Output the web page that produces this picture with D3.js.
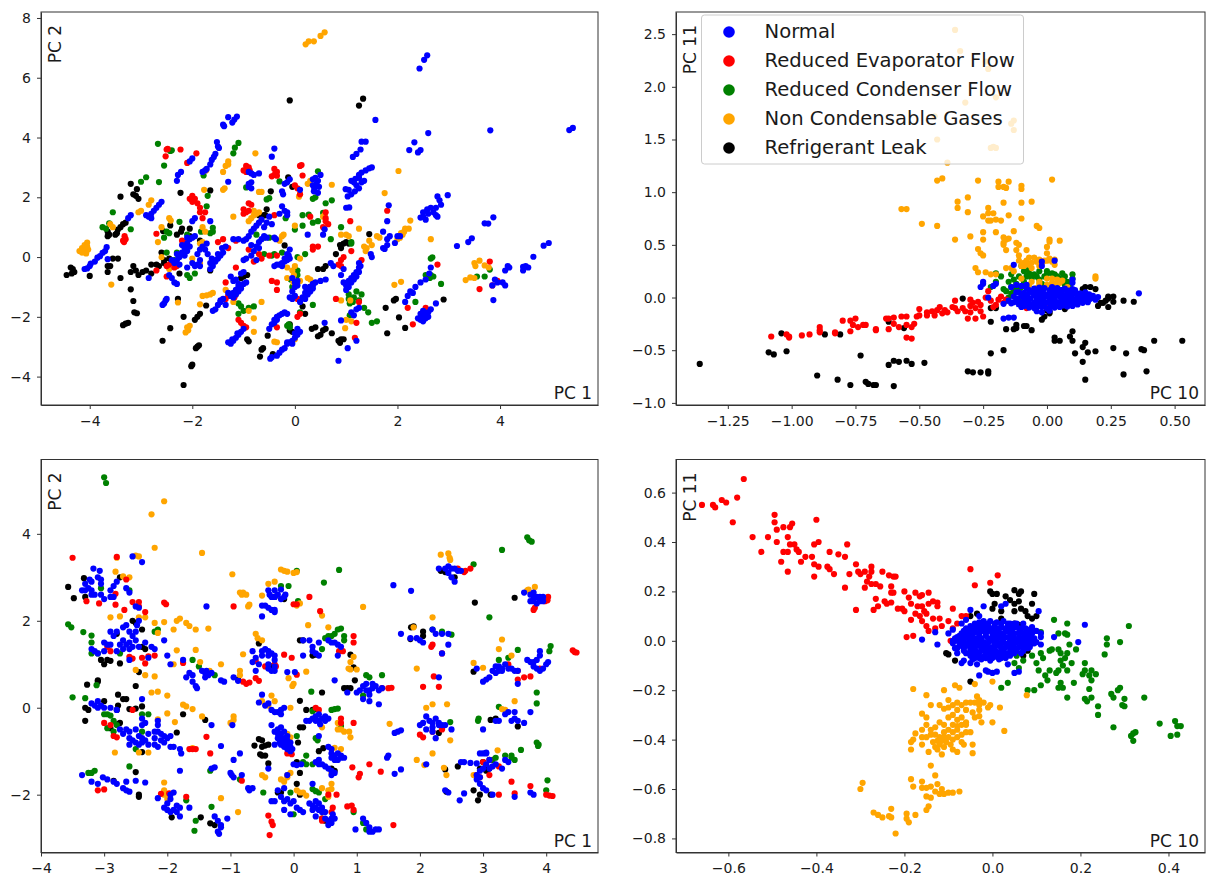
<!DOCTYPE html>
<html>
<head>
<meta charset="utf-8">
<script src="https://cdn.jsdelivr.net/npm/d3@7"></script>
<style>
  html, body { margin: 0; padding: 0; background: #fff; }
  svg { display: block; }
  text { font-family: "DejaVu Sans", sans-serif; fill: #1a1a1a; }
  .tick text { font-size: 14px; }
  .tick line, .domain { stroke: #333; }
</style>
</head>
<body>
<div id="figura"></div>
<script>
/*--- datos: panel a (arriba izq), b (arriba der), c (abajo izq), d (abajo der) ---*/
let clases = ["Normal", "Reduced Evaporator Flow", "Reduced Condenser Flow", "Non Condensable Gases", "Refrigerant Leak"];
let colores = ["blue", "red", "green", "orange", "black"];

let a_normal = [[2.43,6.31],[2.52,6.6],[2.58,6.75],[5.35,4.25],[5.42,4.32],[3.81,4.24],[2.6,4.15],[1.57,4.59],[1.3,3.86],[1.38,3.86],[2.33,3.84],[2.23,3.58],[2.4,3.5],[2.45,3.58],[1.2,3.45],[1.13,3.35],[1.28,3.6],
[1.1,2.55],[1.18,2.62],[1.25,2.75],[1.3,2.83],[1.38,2.9],[1.45,2.97],[1.5,3],[1.2,2.4],[1.3,2.5],[1.35,2.55],[1.15,2.5],[1.25,2.65],[.99,2.27],[1.05,2.25],[1.1,2.1],[1.03,2.03],[1,1.65],[1.06,1.66],[1.17,2.2],[1.25,2.3],
[2.5,1.35],[2.45,1.32],[2.55,1.25],[2.5,1.5],[2.58,1.6],[2.65,1.65],[2.75,1.65],[2.6,1.45],[2.7,1.5],[2.75,1.4],[2.78,1.35],[2.78,2.03],[2.82,1.9],[2.85,1.75],[2.98,2.07],[1.83,1.73],[1.8,1.2],
[3.7,1.13],[3.77,1.12],[3.87,1.33],[1.8,.6],[1.85,.7],[1.72,.85],[2,.7],[2.05,.7],[1.95,.47],[1.72,.3],[1.75,.27],[1.8,.4],[1.48,.1],[3.16,.37],[3.38,.5],[3.45,.63],[4.85,.38],[4.95,.47],[4.65,.01],[4.15,-.3],[4.18,-.35],[4.1,-.45],[4.45,-.33],[4.5,-.3],[4.55,-.35],[4.45,-.45],[4.05,-.85],[4.1,-.95],[3.9,-.75],[3.85,-.95],[3.95,-.85],[3.87,-1.44],
[2.65,-.35],[2.62,-.55],[2.55,-.75],[2.45,-.85],[2.35,-1],[2.25,-1.15],[2.2,-1.3],[2.15,-1.5],[2.3,-1.2],[2.4,-2.05],[2.45,-2.1],[2.5,-2],[2.55,-1.9],[2.6,-1.85],[2.65,-1.75],[2.75,-1.55],[2.5,-2.15],[2.55,-2.05],[2.45,-1.9],[2.5,-1.8],[2.6,-2],
[-4.1,-.4],[-4.05,-.38],[-4,-.3],[-3.98,-.22],[-3.9,-.15],[-3.85,-.02],[-3.8,.03],[-3.75,.14],[-3.7,.2],[-3.67,.33],[-3.65,-.07],[-3.2,1.4],[-3.25,1.3],[-2.85,1.35],[-2.8,1.45],[-2.75,1.55],[-2.7,1.65],[-2.65,1.75],[-2.8,1.3],[-2.9,1.4],[-2.6,1.85],[-2.85,-.7],
[-2.35,-.2],[-2.3,-.1],[-2.25,0],[-2.2,.15],[-2.15,.3],[-2.1,.45],[-2.05,.6],[-2,.65],[-1.95,.7],[-2.25,-.25],[-2.15,.05],[-2.1,.2],[-2.05,.35],[-2.2,.4],[-2.1,.65],[-2.4,-.1],[-2.3,.1],[-2,-.2],[-1.9,-.25],[-1.95,-.3],[-1.85,-.1],[-2.1,-.35],[-1.9,.1],[-1.85,.25],
[-2.4,-.7],[-2.35,-.85],[-2.3,-.9],[-2.45,-.6],[-2.58,-1.6],[-2.55,-1.55],[-2.52,-1.45],[-2.5,-1.4],
[-1.4,4.43],[-1.38,4.38],[-1.3,4.68],[-1.22,4.5],[-1.18,4.6],[-1.13,4.7],[-1.52,3.85],[-1.5,3.7],[-1.48,3.65],[-.45,3.36],[-.4,3.63],[-1.72,2.95],[-1.65,3.1],[-1.62,3.25],[-1.58,3.35],[-1.55,3.45],[-1.75,2.9],[-2.05,3.2],[-2,3.3],[-2.28,2.75],[-2.22,2.85],[-2.3,2.55],[-1.8,2.85],[-1.3,2.52],[-.9,2.85],[-.85,2.8],[-.8,2.75],[-.7,2.8],[-.9,2.45],[-.85,2.5],[-.9,2.35],[-.85,2.3],
[-.2,2.45],[-.25,2.2],[-.15,2.5],[-.23,2.1],[-.1,2.6],[.1,2.25],[.35,2.6],[.4,2.65],[.45,2.55],[.35,2.4],[.42,2.45],[.37,2.2],[.45,2.15],[.38,2.3],[.5,2.75],[.47,2.35],[-.25,1.7],[-.2,1.55],[-.15,1.4],[-.15,1.5],[-.3,1.45],[-.5,1.35],[-1.95,1.3],[-2,1.2],[-1.65,1.2],
[-1.2,.6],[-1.1,.6],[-1,.55],[-.95,.6],[-.9,.7],[-.85,.85],[-.8,.95],[-.75,1.05],[-.7,1.15],[-.65,1.25],[-.85,.4],[-.75,.35],[-.7,.5],[-.65,.6],[-.6,.7],[-.55,.65],[-.8,.2],[-.7,.3],[-.6,1],[-.55,1.15],[-.45,1.1],[-.4,.65],[-.37,.6],[-.75,-.1],[-.95,-.05],[-1,-.1],[-.85,.05],
[-.25,-.3],[-.3,-.25],[-.35,-.25],[-.4,-.3],[-.2,-.15],[-.15,-.1],[-.1,-.05],[-.12,.05],[-.2,-.05],[-.25,-.2],[-.15,.1],[-.1,.25],[-1.65,-.4],[-1.6,-.3],[-1.55,-.15],[-1.5,-.05],[-1.45,.05],[-1.4,.15],[-1.42,.3],[-1.35,.35],[-1.55,-.1],[-1.65,-.2],[-1.62,-.05],[-1.6,-.15],[-1.5,.1],[-1.85,-.3],[-1.7,.1],[-1.75,.25],[-1.8,.35],[-1.72,.45],[.25,.75],[.55,.75],[.58,.93],
[-1.2,-.8],[-1.25,-.65],[-1.15,-.75],[-1.1,-.9],[-1.05,-.55],[-1,-.5],[-1.3,-1.2],[-1.25,-1.3],[-1.2,-1.2],[-1.15,-1.1],[-1.1,-1],[-1.05,-.95],[-1,-.9],[-.95,-.85],[-1.15,-1.25],[-1.1,-1.15],[-1.05,-1.05],[-1.2,-1.35],[-1.4,-1.4],[-1.45,-1.5],[-1.5,-1.6],[-1.55,-1.75],[-1.6,-1.8],[-1.35,-1.6],[-1.45,-1.45],
[-1.3,-2.85],[-1.25,-2.9],[-1.2,-2.8],[-1.15,-2.7],[-1.1,-2.6],[-1.05,-2.5],[-1,-2.4],[-1.22,-2.75],[-1.12,-2.55],[-.5,-2.4],[-.45,-2.25],[-.4,-2.1],[-.35,-2],[-.3,-1.95],[-.25,-1.9],[-.2,-1.85],[-.15,-1.9],[-.4,-2.2],[-.35,-2.1],
[-.48,-3.4],[-.45,-3.35],[-.35,-3.3],[-.3,-3.2],[-.25,-3.1],[-.2,-3.05],[-.15,-2.9],[-.1,-2.85],[-.05,-2.8],[0,-2.7],[.05,-2.6],[.1,-2.5],[0,-2.55],[.05,-2.4],[-.15,-2.85],[-.05,-2.9],
[.35,-.95],[.3,-1],[.25,-1.05],[.2,-1.2],[.15,-1.35],[.1,-1.5],[.3,-1.15],[.35,-1.05],[.25,-1.25],[.2,-1.4],[.4,-.85],[.2,-1],[.35,-.9],[.5,-.8],[.6,-.75],[-.05,-.7],[.05,-.8],[0,-1],[-.05,-1.15],[-.1,-1.35],[-.05,-1.4],[0,-1.3],[.05,-.95],[0,-.85],
[.95,-.85],[1,-.95],[1.05,-.8],[1.1,-.7],[1.15,-.6],[1.2,-.5],[1.25,-.35],[1.28,-.3],[1,-1.1],[1.05,-1],[1.1,-.85],[1.15,-.75],[1.2,-.65],[1.25,-.5],[.9,-.6],[.95,-.4],[.75,-.3],[.7,-.2],[1.25,-.2],[1.5,0],[1.1,-1.85],[1.15,-1.95],[1.2,-1.75],[.9,-2.12],[.58,-2.2],[1.25,-1.7],[1.03,-3.05],[.85,-3.47],[1.2,-2.8]];

let a_evap = [[-2.5,3.6],[-2.48,3.62],[-2.52,3.37],[-2.23,3.6],[-1.92,3.47],[-2.1,3.15],[-.95,3.05],[-.9,3],[-1,2.9],[-.95,2.85],[-.88,2.9],[-.4,2.95],[-.35,2.85],[-.4,2.75],[-.45,2.7],[-.35,2.72],[.1,3.05],[.13,3.08],[.15,2.73],[0,2.4],[.05,2.3],[.1,2.1],[-2,2.05],[-1.95,1.95],[-2.05,1.95],[-2,1.85],[-1.9,1.8],[-1.85,1.5],[-1.8,1.3],[-1.75,1.5],[-1.85,1.65],[-1,1.6],[-.95,1.5],[-.9,1.55],[-.9,1.8],[-.85,1.75],[-1,1.45],[-.4,1.4],[.3,1.35],[.6,1.3],[.6,1.2],[.65,1.1],[.55,1],[.6,1.5],[1.08,1.2],
[-3.33,.5],[-3.3,.6],[-3.35,.55],[-3.32,.7],[-2.7,.78],[-2.2,.55],[-2.15,.5],[-1.5,.5],[-1.4,.6],[-1.3,.3],[-1.15,.55],[-.9,.25],[-.7,.1],[-.65,-.05],[-.8,-.15],[-.5,.05],[-.35,.05],[.35,.25],[.45,.35],[.35,.35],[.9,-.1],[.85,-.25],[.9,-.3],[.95,0],[1.1,.2],[1.3,-.1],
[-2.5,-.3],[-2.45,-.25],[-2.35,-.35],[-2.3,-.3],[-2.7,-.45],[-2.5,-.65],[-.45,-.8],[-.35,-.85],[-.35,-1.1],[-1.35,-1.4],[-1.3,-1.3],[-1.18,-1.35],[-1.35,-.85],[-1.15,-.35],[.8,-1.4],[1.25,-1.5],[1.2,-2.2],[1.17,-2.7],[2.2,-1.7],[2.3,-2.25],[2.55,-1.7],[3.6,-1.07],[3.8,-.15],[3.85,-.95],[3.95,-.8],[2.78,-.25],[1.8,1.55],[.05,-1.4],[.1,-1.9],[.05,-2],[-.35,-2.35],[-1.1,-2.1],[-1.05,-2.2],[-1,-2.3],[-.95,-2.35]];

let a_cond = [[-2.67,3.79],[-2.4,3.57],[-2.43,3.55],[-2.55,3.06],[-2.65,2.51],[-2.9,2.67],[-3,2.52],[-1.1,3.82],[-1.17,3.66],[-1.2,3.47],[.45,2.87],[-.3,2.53],[-1.78,2.73],[-.95,2.33],[.4,2],[.35,1.95],[-.55,1.93],[-.5,1.97],[.6,1.8],[.72,1.9],[.15,1.4],[.27,1.42],[.45,1.2],[.55,1.48],[.35,1.15],[-.18,1.3],[0,.92],[.15,1.05],[-3.55,1.5],[-3.62,1.13],[-3.75,1],[-3.68,.95],[-3.2,.93],[-2.25,1.18],[-2.45,.8],[-2.5,.85],[-2.55,.65],[-2.1,.75],[-1.6,.98],[-1.6,.85],[-1.65,.8],[-1.83,.85],[-1.7,2.05],[-1.72,1.7],[-.75,.75],[-.6,.65],[-.5,.65],[.7,.6],[.9,1],[1.1,.5],[-.6,.1],[-.45,.05],[-.4,.1],[-.25,.15],[.2,.1],[.05,0],[-2.5,.15],[-2.3,.15],[-2.35,-.1],[-2.1,-.6],[-2.05,-.7],[-1.95,-.55],[0,-.4],[.05,-.45],[-.05,-1],[0,-.9],[-.08,-.75],[.05,-.6],
[-1.1,-1.55],[-1.05,-1.65],[-1,-1.8],[-1.1,-1.9],[-.8,-1.65],[-.9,-1.7],[.35,-1.6],[.1,-1.85],[-.1,-2.3],[-.15,-2.3],[-.12,-2.25],[-.1,-2.35],[1.05,-1.25],[1.1,-1.4],[1.15,-1.35],[1.2,-1.15],[1.13,-1.5],[1.05,-1.4],[1.3,-1.25],[1.07,-1.55],[1.25,-1.45],[1.35,-1.7],[1.07,-1.95],[1.43,-1.85],[1.5,-2.2],[1.6,-2.15],[2.35,-1.5],[2.65,-.6],[2.7,-.65],[2.63,-.7],[2.55,-.6],[2.65,-.05],[2.68,-.01],[2.85,-.9],[3.55,-.65],[3.7,-.65],[3.8,-.42],[1.1,.45]];

let a_gases = [[.21,7.12],[.27,7.22],[.37,7.22],[.5,7.4],[.58,7.52],[-.77,3.47],[-1.4,2.85],[-1.35,3.05],[-1.3,3.1],[-1.3,3.2],[-1.73,2.9],[2.02,2.88],[1.75,2.14],[.72,2.42],[.3,2.55],[.25,2.45],[.1,2.1],[.08,2.02],[-1.4,2.25],[-1.37,2.3],[-1.77,2.25],[-.65,2.18],[-.7,2.18],[-2.8,1.9],[-2.85,1.75],[-3,1.55],[-3.05,1.5],[-2.45,1.3],[-2.42,1.22],[-1.2,1.35],[-.85,1.3],[-.8,1.4],[-.75,1.45],[-.7,1.5],[-.8,1.55],[-.9,1.2],
[2.25,1.22],[2.22,.95],[2.15,.95],[2.13,.85],[2.1,.75],[2.07,.8],[2.05,.65],[2,.6],[2.65,.6],[1.45,.55],[1.6,.7],[1.65,.65],[1.35,.35],[1.4,.3],[1.38,.2],[1.5,.4],[1.05,.7],[1,.75],[.9,.75],[1.25,.95],[-3.6,1.1],[-3.55,1],[-2.6,1],[-2.67,.5],[-1.8,1],[-1.75,.85],[-.3,.55],[-.25,.7],[-.22,.75],[0,1.05],[.55,1.35],[.58,1.4],
[-4.2,.2],[-4.15,.3],[-4.1,.4],[-4.05,.48],[-4.12,.2],[-4.07,.12],[-4.03,.25],[-4.15,.15],[-4.05,.35],[-3.58,-.92],[-2.6,0],[-2.45,-.4],[-1.85,-.2],[-2,-.05],[-1.8,.5],[-1.85,.45],[.1,-.05],[0,-.3],[-.15,-.35],[-.05,-.45],[-.02,-.6],[-.15,-.7],[.25,-.7],[.3,-.75],[.1,-.8],[-.03,-.85],
[-1.8,-1.3],[-1.72,-1.28],[-1.65,-1.25],[-1.6,-1.2],[-1.85,-1.58],[-2.28,-1.52],[-1.35,-1.1],[-1.15,-1.25],[-1.2,-1.5],[-.65,-1.5],[-.9,-1.8],[-.8,-2.05],[-.8,-2.5],[-2.1,-2.35],[-2.05,-2.3],[-2.08,-2.45],[-2.13,-2.52],[-.4,-2.83],[-.35,-2.85],[0,-2.75],[1,-2.1],[.98,-2.38],[1.1,-2.15],[.9,-1.45],[1.08,-1.45],[1.94,-.93],[2.07,-.83],[3.33,-.77],[3.42,-.68],[3.5,-.7],[3.5,-.2],[3.52,-.3],[3.6,-.12],[3.7,-.28],[3.78,-.35]];

let a_leak = [[-.1,5.24],[1.25,5.07],[1.33,5.3],[-3.2,2.45],[-3.08,2.27],[-3.4,2.02],[-3.15,2.1],[-3.1,2.05],[-3.05,1.95],[-2.23,2.15],[-1.65,2.23],[-.47,2.2],[-.13,2.67],[-.05,2.35],[-.7,1.4],[-.65,1.38],[-.6,1.4],[-.58,1.4],[-.55,1.6],[-3.45,.92],[-3.4,1],[-3.35,1.1],[-3.3,1.15],[-3.62,.75],[-3.65,.85],[-3.65,.7],[-3.5,.75],[-3.47,.8],[-2.57,.87],[-2.43,1.06],[-2.2,.95],[-2.22,.85],[-2.05,.95],[-2.05,.7],[-1.85,.55],[-2.3,.75],
[-4.45,-.6],[-4.35,-.55],[-4.3,-.5],[-4.33,-.4],[-4.37,-.35],[-4,-.63],[-3.65,-.3],[-3.6,-.3],[-3.65,-.5],[-3.55,-.05],[-3.45,-.05],[-3.4,-.7],[-3.2,-.5],[-3.15,-.3],[-3.1,-.45],[-3.05,-.6],[-2.97,-.5],[-2.9,-.45],[-2.8,-.55],[-2.8,-.25],[-2.7,-.25],[-2.65,-.3],[-2.55,-.2],[-2.6,.15],[-2.55,-.1],[-2.45,-.05],[-2.25,-.55],[-1.65,-.45],[-3.2,-1.08],[-3.15,-1.47],[-3.13,-1.85],[-3.08,-1.88],[-3.35,-2.28],[-3.3,-2.23],[-3.25,-2.2],[-2.43,-2.38],[-2.58,-2.8],[-2.28,-1.4],[-2.17,-2],[-1.95,-2.1],[-1.9,-2],[-1.85,-1.9],[-1.73,-1.62],[-1.93,-3.05],[-1.87,-2.95],[-1.9,-3],[-2,-3.6],[-2.02,-3.65],[-2.17,-4.28],
[-1.05,-.7],[-1,-.65],[-.93,-.6],[-.93,-2.75],[-.9,-2.82],[-.53,-2.63],[-.68,-3.33],[-.65,-3.1],[-.62,-3.05],[-.43,-3.25],[-.1,-2.25],[-.1,-2.45],[-.05,-2.5],[.33,-2.4],[.4,-2.35],[.45,-2.65],[.5,-2.6],[.55,-2.45],[.6,-2.4],[.72,-2.55],[.85,-2.8],[.9,-2.75],[.95,-2.75],[.88,-2.87],[1.8,-2.55],[2.15,-2.37],[2.03,-2.02],[1.77,-1.7],[1.97,-1.4],[1.93,-1.45],[2.9,-1.42],[.2,-1.9],[.15,-1.65],[.45,-.4],[.55,-.4],[.6,-.3],[.3,-1],[.25,-1.1],[-.2,.39],[.8,.1],[.9,.3],[.88,.4],[.95,.45],[1,.5],[1.05,.45],[1.45,.77]];

let b_normal = [[.36,.04],[.03,.35],[-.02,.3],[-.02,.34],[-.13,.31],[-.26,.1],[-.25,.13],[-.25,.15],[-.2,.13],[-.21,.11],[-.23,0],[-.17,-.2],[-.15,-.19],[-.13,-.19],[.1,.17],[.1,.14],[-.14,.1],[-.12,.12],[-.1,.11],[-.12,.05],[-.08,.12],
[-.08,.09],[-.05,.085],[-.03,.095],[-.01,.09],[.02,.1],[.04,.09],[.07,.085],[.1,.08],
[-.11,.05],[-.09,.045],[-.06,.055],[-.04,.05],[-.02,.06],[.01,.05],[.03,.055],[.05,.05],[.08,.045],[.11,.05],[.13,.04],[.15,.05],
[-.13,.01],[-.1,.015],[-.08,.01],[-.05,.02],[-.03,.01],[0,.015],[.02,.01],[.04,.02],[.07,.01],[.09,.015],[.12,.01],[.14,.02],[.16,.01],[.18,.015],[.2,.005],
[-.15,-.03],[-.12,-.025],[-.09,-.03],[-.07,-.02],[-.04,-.035],[-.02,-.025],[.01,-.03],[.03,-.02],[.06,-.03],[.08,-.025],[.11,-.035],[.13,-.02],[.15,-.03],[.19,-.02],
[-.17,-.06],[-.14,-.055],[-.11,-.065],[-.08,-.06],[-.06,-.07],[-.03,-.055],[-.01,-.065],[.02,-.06],[.05,-.07],[.07,-.055],[.1,-.06],[.12,-.065],[.14,-.05],
[-.1,-.09],[-.07,-.095],[-.05,-.1],[-.02,-.09],[0,-.105],[.03,-.095],[.05,-.09],[.08,-.085],[.1,-.08],[-.04,-.13],[-.02,-.14],[.01,-.125],[-.09,-.05],[-.03,.075],[.06,.07],[.16,-.045],[.17,-.01]];
let b_centro = [[-.07,.07],[-.04,.07],[-.015,.07],[.01,.07],[.03,.07],[.055,.07],[.085,.065],[.11,.07],[-.1,.03],[-.075,.03],[-.05,.03],[-.03,.03],[-.01,.03],[.01,.03],[.03,.03],[.06,.03],[.08,.03],[.1,.03],[.125,.03],[.145,.03],[.165,.03],[-.115,-.01],[-.09,-.01],[-.065,-.01],[-.04,-.01],[-.015,-.01],[.01,-.01],[.03,-.01],[.055,-.01],[.08,-.01],[.1,-.01],[.125,-.01],[.15,-.01],[.17,-.01],[-.13,-.045],[-.1,-.045],[-.075,-.045],[-.05,-.045],[-.03,-.045],[0,-.045],[.02,-.045],[.04,-.045],[.065,-.045],[.09,-.045],[.12,-.045],[-.09,-.08],[-.06,-.08],[-.035,-.08],[-.01,-.08],[.015,-.08],[.04,-.08],[.065,-.075],[.09,-.07]];

let b_evap = [[-1.08,-.37],[-1.02,-.35],[-1.01,-.37],[-1.01,-.38],[-.96,-.36],[-.93,-.35],[-.89,-.31],[-.89,-.28],[-.89,-.33],[-.83,-.34],[-.83,-.33],[-.8,-.22],[-.77,-.22],[-.76,-.26],[-.75,-.2],[-.77,-.32],[-.74,-.28],[-.72,-.26],[-.71,-.26],[-.67,-.31],[-.67,-.3],[-.63,-.2],[-.62,-.2],[-.62,-.3],[-.6,-.19],[-.6,-.25],[-.58,-.28],[-.57,-.18],[-.55,-.18],[-.55,-.26],[-.55,-.38],[-.53,-.28],[-.53,-.39],[-.52,-.25],[-.51,-.18],[-.5,-.17],[-.5,-.11],[-.47,-.17],[-.47,-.14],[-.45,-.13],[-.44,-.17],[-.43,-.12],[-.42,-.09],[-.41,-.15],[-.4,-.12],[-.39,-.14],[-.37,-.09],[-.36,-.1],[-.35,-.13],[-.33,-.1],[-.32,-.13],[-.31,-.2],[-.3,-.14],[-.3,-.08],[-.29,-.05],[-.28,-.2],[-.28,-.1],[-.27,-.04],[-.26,-.07],[-.26,-.13],[-.25,-.18],[-.24,0],[-.22,-.03],[-.21,-.09],[-.2,-.07],[-.19,-.02],[-.18,.01],[-.17,-.05],[-.16,-.02],[-.23,.06],[-.36,-.03],[-.3,-.02],[0,-.1],[-.05,-.08],[-.1,-.05],[-.08,-.1]];

let b_cond = [[-.2,.23],[-.18,.2],[-.1,.3],[-.09,.25],[-.07,.27],[-.05,.22],[-.04,.2],[-.08,.2],[-.11,.2],[-.14,.22],[-.13,.17],[-.15,.15],[-.12,.13],[-.09,.15],[-.06,.18],[-.03,.17],[-.01,.2],[0,.22],[.02,.23],[.04,.2],[.05,.18],[.07,.2],[.1,.22],[.1,.18],[.08,.15],[.07,.12],[.04,.1],[-.02,.13],[-.22,.1],[-.2,.15],[-.17,.08],[-.16,.06],[-.14,.04],[-.15,0],[-.16,-.03],[-.11,.06],[-.1,.1],[.02,.1],[.09,.1],[-.12,.1],[-.1,0],[-.07,.23],[-.06,.2],[-.03,.25],[0,.25],[.03,.22],[.06,.23],[.09,.14],[-.13,.08],[-.14,.1]];

let b_gases = [[-.36,2.54],[-.34,2.34],[-.24,2.24],[-.23,2.17],[-.32,1.85],[-.2,1.9],[-.44,1.72],[-.14,1.65],[-.13,1.68],[-.13,1.59],[-.43,1.5],[-.22,1.42],[-.21,1.43],[-.2,1.42],[-.39,1.28],[-.43,1.11],[-.41,1.13],[-.27,1.11],[-.19,1.1],[-.15,1.1],[-.1,1.03],[-.1,1.06],[-.19,1.05],[-.17,1.05],[-.16,1.04],[.02,1.12],
[-.35,.91],[-.31,.95],[-.35,.85],[-.31,.81],[-.23,.85],[-.17,.9],[-.1,.9],[-.06,.91],[-.57,.84],[-.55,.84],[-.49,.7],[-.43,.68],[-.25,.77],[-.23,.8],[-.21,.8],[-.23,.73],[-.2,.74],[-.18,.73],[-.22,.73],[-.15,.78],[-.1,.75],[-.2,.62],[-.25,.62],[-.25,.55],[-.36,.55],[-.3,.58],[-.04,.68],[-.03,.66],[-.13,.63],[-.17,.57],[-.17,.52],[-.16,.55],[-.15,.56],[-.12,.52],[-.11,.5],[-.17,.5],[.01,.55],[.01,.53],[.05,.54],
[-.27,.46],[-.26,.42],[-.25,.4],[-.16,.45],[-.12,.45],[-.11,.4],[-.08,.45],[0,.48],[0,.42],[-.11,.35],[-.08,.35],[-.07,.38],[-.05,.38],[-.03,.36],[-.01,.35],[.01,.37],[.03,.36],[.03,.31],[.19,.2],[.19,.18],[-.28,.28],[-.27,.24],[-.24,.24],[-.22,.22],[-.2,.22],[-.16,.28],[-.14,.28],[-.1,.3],[-.13,.25],[-.06,.28],[-.03,.3],[-.1,.18],[-.06,.15],[-.07,.12],[-.03,.13],[0,.18],[.02,.18],[.04,.17],[.05,.14],[.02,.14],[-.04,.09],[-.09,.3],[-.03,.15],[0,.12],[.03,.13],[.06,.16],[.08,.1],[-.09,.33],[-.06,.33],[-.04,.34],[-.02,.33],[0,.35],[.02,.34],[-.07,.31]];

let b_leak = [[-1.36,-.63],[-1.09,-.52],[-1.07,-.54],[-1.04,-.34],[-1.02,-.51],[-.87,-.35],[-.81,-.35],[-.9,-.74],[-.82,-.78],[-.77,-.83],[-.71,-.8],[-.7,-.82],[-.68,-.83],[-.67,-.83],[-.6,-.84],[-.62,-.64],[-.6,-.6],[-.58,-.61],[-.55,-.6],[-.53,-.63],[-.48,-.62],[-.73,-.55],[-.62,-.23],[-.56,-.29],[-.33,-.01],[-.31,-.7],[-.29,-.71],[-.26,-.71],[-.23,-.7],[-.23,-.72],[-.22,-.53],[-.17,-.5],[-.22,-.23],[-.22,-.1],[-.2,-.1],[-.16,-.3],[-.13,-.3],[-.12,-.29],[-.12,-.26],[-.09,-.27],[-.08,-.27],[-.06,-.31],[-.02,-.21],[-.01,-.18],[.01,-.13],[.01,-.15],[.03,-.41],[.03,-.38],[.05,-.41],[.09,-.37],[.1,-.41],[.1,-.32],[.11,-.53],[.15,-.43],[.14,-.47],[.16,-.52],[.19,-.51],[.14,-.61],[.15,-.78],[.26,-.48],[.3,-.73],[.31,-.53],[.37,-.49],[.38,-.5],[.39,-.7],[.42,-.41],[.53,-.41],[.08,-.03],[.17,.1],[.19,.08],[.15,.1],[.14,.08],[.2,-.08],[.21,-.05],[.22,-.05],[.23,-.03],[.24,-.01],[.24,.01],[.26,.01],[.26,-.04],[.24,-.09],[.3,-.03],[.34,-.04],[.07,-.11],[0,-.12]];

let c_normal = [[-3.17,3.2],[-3.07,3.15],[-3.1,3],[-3.05,2.95],[-3.05,2.85],[-3.23,2.95],[-3.3,2.85],[-3.2,2.9],[-3.25,2.75],[-3.35,2.7],[-3.3,2.7],[-3.2,2.7],[-3.2,2.6],[-3.15,2.6],[-3.05,2.6],[-3,2.5],[-2.9,2.55],[-2.85,2.55],[-2.9,2.7],[-2.8,2.9],[-2.85,2.8],[-2.65,2.75],[-2.6,2.65],[-2.55,3.48],[-2.4,3.35],[-2.5,2.33],[-2.45,2.3],
[-2.9,1.75],[-2.85,1.65],[-2.8,1.75],[-2.9,1.45],[-3,1.5],[-2.95,1.45],[-3.2,1.35],[-3.15,1.3],[-3.1,1.25],[-3,1.3],[-2.7,1.85],[-2.65,1.9],[-2.6,1.75],[-2.55,1.65],[-2.7,1.55],[-2.65,1.45],[-2.6,1.5],[-2.55,1.4],[-2.7,1.35],[-2.6,1.35],[-2.5,1.55],[-2.45,1.4],[-2.5,1.75],[-2.48,1.9],[-2.45,2],[-2.35,1.5],[-2.25,1.4],[-2.2,1.35],[-2.75,1.45],[-2.8,1.3],[-2.6,1.1],[-2.3,1.15],[-2.05,1.55],
[-2,1.2],[-1.95,1],[-1.75,1.1],[-1.6,.75],[-1.65,.8],[-1.7,.7],[-1.6,.6],[-1.55,.5],[-1.53,.45],[-1.45,.85],[-1.4,.8],[-1.35,.75],[-1.4,.7],[-1.38,.85],[-1.3,.8],[-1.15,.63],[-1.1,.6],[-.95,.7],[-.88,.62],[-1.38,2.33],
[-.65,1.3],[-.6,1.15],[-.65,1.05],[-.5,1.2],[-.5,1.3],[-.45,1.35],[-.4,1.3],[-.4,1.2],[-.35,1.25],[-.3,1.2],[-.4,1],[-.4,.9],[-.35,.85],[-.3,.85],[-.3,1.1],[-.3,.95],[-.6,.85],[-.55,1],[-.1,.82],[.02,.82],
[.15,1.2],[.15,1.55],[.25,1.55],[.3,1.4],[.3,1.3],[.35,1.25],[.4,1.2],[.4,1.5],[.55,1.55],[.6,1.5],[.65,1.5],[.7,1.45],[.75,1.4],[.7,1.2],[.65,.63],
[-.5,2.1],[-.5,2.35],[-.45,2.35],[-.4,2.3],[-.35,2.25],[-.3,2.25],[-.3,2.2],[-.4,2.7],[-.38,2.6],[-.35,2.55],[-.3,2.7],[-.25,2.6],[-.2,2.5],[-.15,2.55],[-.2,2.72],[-.3,2.55],[-.13,2.6],
[-3.2,.1],[-3.15,.05],[-3.1,0],[-3.05,.05],[-3,0],[-3.1,.15],[-2.9,0],[-2.8,-.05],[-2.4,.2],[-2.4,-.25],[-2.35,-.35],[-2.4,-.4],[-2.75,-.5],[-2.65,-.5],[-2.6,-.55],[-2.5,-.5],[-2.7,-.6],[-2.6,-.7],[-2.55,-.75],[-2.45,-.65],[-2.4,-.7],[-2.3,-.6],[-2.2,-.55],[-2.6,-.85],[-2.5,-.8],[-2.45,-.85],[-2.4,-.8],[-2.35,-.75],[-2.3,-.85],[-2.2,-.7],[-2.15,-.55],[-2.15,-.4],[-2.15,-.3],[-2.1,-.6],[-2.05,-.65],[-2.1,-.75],[-2.05,-.8],[-2,-.7],[-1.95,-.65],[-2.2,-.85],[-2.15,-.9],[-1.95,-.9],[-1.9,-.9],[-1.8,-.95],[-1.78,-1.05],[-1.3,-.4],[-.97,-.4],
[-1.15,-.88],[-.95,-1.2],[-.85,-1.05],[-1,-1.5],[-.98,-1.55],[-.95,-1.6],[-.82,-1.55],[-1.25,-1.37],[-1.3,-1.4],[-1.8,-1.45],[-.7,-1.9],[-.72,-1.85],[-.65,-1.85],[-1.05,-2.55],[-1.25,-2.5],[-1.2,-2.6],[-1.15,-2.7],[-1.15,-2.75],[-1.2,-2.85],[-1.18,-2.9],
[-.4,.1],[-.45,.05],[-.55,.12],[-.5,.3],[-.35,-.05],[-.3,-.1],[-.25,-.1],[-.2,-.05],[-.2,-.15],[-.15,0],[-.35,-.4],[-.3,-.55],[-.25,-.5],[-.25,-.6],[-.25,-.7],[-.22,-.8],[-.2,-.45],[-.2,-.6],[-.2,-.7],[-.2,-.85],[-.15,-.55],[-.15,-.7],[-.15,-.8],[-.15,-.9],[-.1,-.65],[-.1,-.75],[-.1,-.85],[-.1,-.95],[-.05,-.8],[-.05,-.9],[-.05,-1],[-.3,-.85],[-.02,-.95],
[0,-1.3],[.05,-1.32],[.12,-1.3],[.35,-1.25],[.4,-1.3],[.45,-1.3],[.4,-1.2],[.5,-1.35],[.55,-1.4],[.6,-1.45],[.65,-1.5],[.6,-1.55],[.4,-.65],[.55,-.9],[.6,-.95],[.6,-1.05],[.6,-1.15],[.65,-1.1],[.7,-1.05],[.75,-1.1],[.75,-1.15],[.8,-1.15],[.65,-1.2],[.7,-1.2],
[.2,-.3],[.25,-.3],[.3,-.25],[.35,-.2],[.4,-.15],[.4,-.3],[.45,-.25],[.5,-.3],[.5,-.2],[.55,-.25],[.35,-.3],[.42,-.38],[-.4,-1.4],[-.1,-1.55],
[-.3,-2.15],[-.35,-2.15],[-.25,-1.9],[-.2,-2.05],[-.15,-2.15],[-.1,-2.1],[-.05,-2.2],[-.15,-1.85],[0,-2.15],[.05,-2.3],[.1,-2.35],[-.15,-2.35],[-.05,-2.45],[.15,-2.4],[.25,-2.2],[.3,-2.25],[.3,-2.35],[.35,-2.3],[.35,-2.15],[.4,-2.35],[.4,-2.2],[.45,-2.3],[.45,-2.4],[.3,-1.75],[.35,-2.5],[.5,-2.4],[.5,-2.55],[.55,-2.6],[.6,-2.55],[.55,-2.7],[.6,-2.65],[.65,-2.55],[.62,-2.45],[.98,-2.8],[1.1,-2.55],[1.15,-2.65],[1.2,-2.75],[1.25,-2.85],[1.3,-2.8],[1.35,-2.8],[1.2,-2.85],
[-3.35,-1.55],[-3.2,-1.7],[-3.1,-1.75],[-3.02,-1.6],[-2.95,-1.65],[-2.85,-1.7],[-2.8,-1.75],[-2.65,-1.7],[-2.7,-1.85],[-2.65,-1.9],[-2.6,-1.93],[-2.5,-1.68],[-2.35,-1.72],[-2.15,-2.08],[-2.05,-2.3],[-2,-2.2],[-2,-2.35],[-1.95,-2.4],[-1.9,-2.35],[-1.85,-2.25],[-1.85,-2.4],[-1.8,-2.3],[-1.8,-2.5],[-1.95,-2],[-1.9,-1.95],[-1.95,-2.1],[-1.65,-2.3],
[1.58,2.82],[1.86,2.69],[2.4,3.2],[2.45,3.25],[2.5,3.2],[2.55,3.2],[2.6,3.15],[2.65,3.15],[2.45,3.1],[2.5,3],[2.55,2.9],[2.3,3.2],[1.7,1.7],[1.85,1.6],[1.95,1.6],[2,1.55],[2.2,1.8],[2.25,1.7],[2.35,1.7],[2.45,1.7],[2.05,1.5],[2.45,1.45],[2.35,1.25],
[3.65,2.65],[3.75,2.6],[3.8,2.55],[3.85,2.4],[3.8,2.45],[3.75,2.45],[3.9,2.55],[3.95,2.55],[3.9,2.45],[3.85,2.55],[3.95,2.45],[3.8,2.65],
[2.9,.9],[3,.6],[3.05,.65],[3.1,.7],[3.15,.85],[3.2,.8],[3.25,.85],[3.3,.9],[3.35,1],[3.4,.9],[3.45,.9],[3.5,.85],[3.55,.85],[3.2,.95],[3.25,.95],[3.3,.85],[3.55,.55],[3.7,1.1],[3.75,1.05],[3.8,1.05],[3.85,1.1],[3.9,1.2],[3.95,.9],[3.9,.85],[4,1],[4.03,1.05],[3.8,.95],[3.85,.9],[2.3,.7],[3.9,1.3],
[3.25,-.3],[3.35,-.15],[3.4,-.1],[3.5,-.1],[3.5,-.25],[3.55,-.3],[3.65,-.35],[3.45,-.3],[3.75,-.1],[3,-.5],[3.2,-.3],[2,-.4],[2.05,-.35],[2.1,-.5],[2.15,-.3],[2.2,-.35],[2.2,-.45],[2.25,-.25],[2.3,-.35],[2.3,-.4],[2.35,-.4],[2.4,-.4],[2.1,-.2],[2.2,-.55],[2.25,-.7],[2.5,-.5],
[2.65,-1.25],[2.7,-1.25],[2.8,-1.27],[2.9,-1.28],[3,-1.05],[3.05,-1.05],[2.95,-1.05],[3.05,-1.03],[3.05,-1.3],[3.1,-1.4],[3.15,-1.35],[3.2,-1.3],[3,-1.4],[2.95,-1.45],[2.9,-1.55],[2.9,-1.65],[2.95,-1.75],[3,-1.85],[3.05,-1.9],[3.4,-1.25],[3.35,-1.2],[3.1,-1.2],[2.45,-1.95],[2.4,-1.9],[2.63,-2.13],[2.7,-1.97],[2.95,-1.6],[3.5,-2.05],[3.75,-1.95],[3.8,-2],[3.15,-2],[3.3,-1.4],
[1.5,-1.1],[1.48,-1.15],[1.6,-.58],[1.65,-.55],[1.7,-.52],[1.6,-1.52],[1.7,-1.42],[2.1,-1.3],[1,.35],[1.05,.4],[1.1,.5],[1.15,.55],[1.2,.4],[1.25,.45],[1.3,.5],[1.25,.55],[1.35,.4],[1.4,.45],[1.15,.4],[1.2,.3],[.85,.35],[1.1,.2],[1.2,.15],[1.35,.08]];

let c_evap = [[-3.5,3.45],[-2.8,3.47],[-2.65,2.95],[-2.82,2.62],[-3.28,2.45],[-3.08,2.4],[-2.82,2.37],[-2.68,2.25],[-2.55,2.43],[-2.45,2.43],[-2.45,2.33],[-2.35,2.2],[-2.05,2.42],[-2.02,2.38],[-2.95,1.4],[-2.9,1.3],[-2.6,1.17],[-2.55,1.13],[-2.4,1.15],[-2.3,1.18],[-2.2,1.2],[-2.35,1.02],[-.95,2.33],[0,2.38],[.05,2.38],[.25,2.55],[.42,2.22],[.95,1.65],[.95,1.5],[.78,1.3],[.72,1.3],[-.6,1.08],[-.45,.95],[-.3,1],[-.28,.95],[-.15,1.22],[-.03,1.15],[.05,.76],[-.75,.55],[-.8,.6],[-.7,.58],[-.6,.68],[-.55,.62],[-1.75,1.03],[1.5,.45],[1.55,.46],[1.4,.45],[2.22,.72],[2.05,.48],[2.3,.48],[2.2,1.45],[2.18,1.4],[2.35,1.25],[2.35,-.5],[2.2,-.55],[2,-.62],[2.05,-.68],
[-3,-.35],[-2.9,-.4],[-2.85,-.65],[-2.8,-.68],[-2.55,-.05],[-1.6,-.95],[-1.55,-.95],[-1.65,-.95],[-1.38,-.67],[-1.32,-1.05],[-.1,-1.05],[-.03,-1.07],[.4,-.05],[.35,0],[.75,-.25],[.75,-.35],[.95,-.35],[-3.1,-1.9],[-3,-1.88],[-1.97,-1.97],[-2.1,-1.98],[-1.7,-2.05],[-.82,-1.68],[.55,-2],[.68,-2],[.62,-2.3],[.6,-2.4],[.85,-2.27],[.92,-2.25],[.95,-2.35],[.55,-2.6],[.45,-2.6],[.45,-2.55],[-.4,-2.48],[-.35,-2.62],[-.33,-2.7],[-.38,-2.93],[.93,-1.37],[1.05,-1.52],[1.03,-1.6],[1.2,-1.3],[1.38,-1.47],[1.58,-2.7],
[2.9,-1.55],[2.95,-1.6],[3.1,-1.55],[3.25,-1.35],[3.25,-2],[3.5,-1.97],[3.45,-1.7],[3.75,-1.8],[4,-2],[4.05,-2.02],[4.1,-2.03],[3.1,-1.2],[3,-1.25],[3.55,.65],[3.65,.7],[3.75,.72],[3.55,.85],[3.8,2.25],[3.82,2.3],[4.03,2.55],[4.02,2.47],[3.98,2.45],[4.42,1.32],[4.45,1.28],[4.48,1.27],[3.4,1],[3.9,.9],[2.7,3.12],[2.72,3.15],[2.8,3.2],[2.6,3.2]];

let c_cond = [[-3,5.3],[-2.97,5.17],[-3.57,1.92],[-3.52,1.85],[-3.33,1.74],[-3.2,1.66],[-3.2,1.5],[-3.2,1.25],[-3.1,1.25],[-2.75,1.25],[-3.05,2.75],[-2.6,2.7],[-2.15,1.8],[-2.2,1.75],[-3.5,.24],[-3.3,.22],[-3.12,.52],[-2.95,-.15],[-3,-.15],[-2.9,-.18],[-2.85,-.3],[-2.8,-.4],[-2.95,-.47],[-2.85,-.55],[-2.4,-.55],[-2.4,-.15],[-2.3,-.15],[-2.5,-.95],[-2.6,-1.35],[-3.25,-1.5],[-3.2,-1.5],[-3.15,-1.45],[-1.6,1.1],[-1.5,.95],[-1.25,.75],[-.85,-1.65],[-1.7,-2.13],[-1.32,-1.45],[-1.3,-2.28],[-1.55,-2.6],[-1.57,-2.83],[-.48,-1.95],[.07,2.45],[.48,2.88],[.05,3.15],[-.08,2.8],[.72,3.17],[.6,1.65],[.55,1.65],[.65,1.7],[.7,1.8],[.75,1.82],[.8,1.65],[.8,1.55],[.5,1.6],[.45,1.35],[.28,.37],[1.15,.75],[1.2,.7],[1.4,.75],[1.1,.28],[.6,-.05],[.65,-.03],[.7,-.02],[.3,-.08],[.75,-.42],[.35,-.7],[.38,-.75],[.2,-1.1],[.15,-1.25],[.2,-1.3],[.3,-1.3],[.05,-.65],[.3,-1.87],[.35,-1.92],[.4,-1.95],[.5,-2.1],[-.05,-1.95],[0,-2.45],[.95,-2.4],[1.1,-2.65],[1.15,-2.8],[2.2,1.8],[2.35,1.75],[2.5,1.68],[2.85,3.3],[-.2,2.8],[3.3,3.63],[3.7,3.92],[3.73,3.85],[3.77,3.82],[3.1,2.08],[3.55,1.33],[4.05,1.3],[4.07,1.42],[3.25,1.1],[3.4,1.15],[3.85,.35],[3.85,.1],[3.95,2.5],[3.25,.02],[2.93,-.25],[2.92,-.3],[2.48,-.33],[3.85,-.8],[3.88,-.85],[3.87,-.88],[3.6,-.97],[3.45,-1.1],[3.5,-1.2],[3.35,-1.1],[3.45,-1.15],[3.2,-1.15],[3.15,-1.2],[4.02,-1.67],[4,-1.9]];

let c_gases = [[-2.05,4.75],[-2.25,4.45],[-2.2,3.68],[-1.45,3.56],[-2.5,3.5],[-2.45,3.48],[-2.8,3.45],[-2.82,3.13],[-2.7,3.02],[-2.6,3],[-2.9,2.08],[-2.75,2.1],[-2.45,2.08],[-2.35,2.08],[-2.2,1.95],[-2.05,1.97],[-2.15,1.72],[-1.85,2],[-1.8,2.05],[-1.7,1.95],[-1.65,1.88],[-1.55,1.8],[-1.9,1.8],[-1.35,1.82],[-1.85,1.32],[-1.55,1.33],[-1.9,1],[-1.48,1.05],[-2.5,.87],[-2.35,.75],[-2.2,.72],[-1.33,.85],[-1.15,1],[-.85,.85],[-.85,.75],[-.8,1.23],[-.97,3.07],[-.85,2.65],[-.82,2.6],[-.8,2.65],[-.75,2.6],[-.7,2.37],[-.72,2.33],[-.5,2.58],[-.4,2.85],[-.3,2.9],[-.2,3.18],[-.15,3.15],[-.1,3.13],[0,3.1],[.05,3.12],[.05,2.35],[.1,2.4],[1.1,2.32],[.23,1.9],[.45,2.12],[.55,1.85],[-.6,1.7],[-.57,1.6],[-.5,1.55],[.2,.83],[.9,1.05],[.95,1.17],[.87,.9],[.9,.88],[1,.88],[-.08,.68],[-.02,.5],[0,.55],
[-2.25,.35],[-2.15,.37],[-2,.28],[-2,-.13],[-1.75,.07],[-1.7,.03],[-1.6,-.03],[-1.45,-.2],[-2.15,-.27],[-1.88,-.33],[-.95,-.2],[-.95,-.28],[-1,-.35],[-.5,.15],[-.4,.05],[-.35,.28],[-.3,.15],[-.05,0],[.45,-.45],[.7,-.35],[.75,-.5],[.8,-.55],[.88,-.55],[.9,-.68],[.7,-.5],[-.1,-.6],[-.05,-.68],[-2.83,-1.03],[-2.45,-1.03],[-2.3,-1.03],[-1.6,-.93],[.65,-.92],[.75,-.95],[1.52,-.37],[1.95,.9],[2.2,2.08],[1.9,1.85],[3.3,1.57],[3.25,1.35],[2.85,1.03],[3,.92],[3.45,1.2],[2.1,0],[2.2,.08],[2.43,.08],[2.48,-.75],[2.2,-1.05],[3.23,-.98],[1.95,-1.2],[2.07,-1.32],[2.38,-1.38],[2.42,-1.55],[2.85,-1.55],[3.5,.15],[3.3,-.03],[3.35,-.05],
[-.5,-1.55],[-.45,-1.6],[-.1,-1.55],[-.05,-1.5],[-.1,-1.6],[.6,-1.5],[.6,-1.75],[.45,-1.85],[.55,-1.9],[.6,-1.87],[.55,-2.05],[.05,-1.9],[.1,-1.95],[.15,-1.95],[.2,-2.02],[-.15,-1.7],[-.2,-1.65],[-1.15,-2.08],[-.88,-2.4],[-2.05,-1.93],[-2,-2.1],[-2.05,-1.9],[-2.05,-2],[-2.05,-1.72],[3.72,2.72],[3.82,2.78],[2.45,3.55],[2.33,3.52],[2.47,3.45],[2.48,3.4],[3.7,2.7]];

let c_leak = [[-3.57,2.78],[-3.32,2.98],[-3.48,2.52],[-3.3,2.55],[-2.75,3],[-2.55,2],[-2.5,1.95],[-2.8,1.7],[-2.4,1.8],[-2.4,1.4],[-2.35,1.35],[-3.05,1.1],[-3,1],[-2.95,1.1],[-2.9,1.08],[-2.75,1.02],[-2.45,.82],[-3.27,.53],[-3.1,.6],[-3.1,.63],[-2.5,.5],[-3.3,0],[-3.25,-.05],[-3,.15],[-2.78,.3],[-2.7,.2],[-2.65,.2],[-2.8,-.05],[-2.78,.05],[-2.6,-.03],[-2.4,.03],[-3.3,-.3],[-2.9,-.47],[-2.8,-.38],[-2.75,-.35],[-2.5,-.02],[-1.75,-.15],[-1.4,-.28],[-1.85,-.57],[-2.4,-1.02],[-2.5,-1.48],[-2.45,-2],[-2.45,-2.05],[-1.93,-2.52],[-1.47,-2.52],[-1.32,-2.66],[-1.25,-2.7],[-2.85,-1.68],[-.5,-.9],[-.45,-.87],[-.4,-.85],[-.55,-.72],[-.5,-.75],[-.62,-.87],[-.53,-1.07],[-.5,-1.1],[-.45,-1.1],[-.4,-1.28],[-.55,1.48],[-.35,.95],[-.3,2.55],[-.15,2.5],[-.88,.65],[.1,1.55],[.15,1.55],[.3,1.2],[.35,1.22],[.9,1.22],[.95,.93],[.97,.63],[.8,.45],[.85,.45],[.9,.45],[.45,.35],[.1,.16],[.1,-.45],[.15,-.45],[.07,-.8],[.2,-.05],[.3,-.05],[.35,-.03],[.05,-1.25],[.1,-1.5],[.47,-.93],[.4,-1],[.6,-1.4],[.65,-1.45],[-.25,-1.95],[-.2,-1.95],[.05,-1.75],[.1,-2],[.5,-2.6],[.45,-2.55],[1.86,1.85],[1.9,1.87],[1.85,1.58],[2.05,1.75],[2.05,1.65],[2.33,3.15],[2.4,3.12],[2.55,3],[2.87,2.42],[2.85,.83],[3.5,2.53],[3.2,-.25],[3.12,-.28],[3.55,-.43],[2.3,-.58],[2.4,-1.42],[2.42,-1.93],[2.6,-1.35],[2.85,-1.9],[2.92,-2.13],[3,-1.25],[3.05,-1.35],[3.1,-1.4],[3.12,-2],[2.95,-2],[3.05,-1.45],[2.95,-1.4]];

let d_normal = [[.21,.065],[.195,-.005],[.14,.015],[.105,.12],[.03,.15],[-.02,.14],[-.05,.125],[-.16,.005],[-.13,.035],[-.125,-.015],[-.1,.03],[-.09,.045],[-.09,0],[-.08,.015],[-.07,.07],[-.06,.085],[-.03,.1],[.02,.14],[.07,.07],[.09,.055],[.1,.04],[.11,.03],[.11,.015],[.1,-.005],[.11,-.015],[-.03,-.14],[-.015,-.12],[-.01,-.125],[0,-.13],[.01,-.125],[.035,-.095],[.05,-.13],[.06,-.125],[-.05,-.09],[-.065,-.08],[-.08,-.05],[-.085,-.03],[-.07,-.09],[-.035,-.095],
[-.03,.075],[-.02,.08],[-.005,.08],[.01,.075],[.025,.08],[.04,.07],[.055,.07],[-.05,.06],[-.035,.055],[-.02,.06],[-.01,.06],[.005,.06],[.02,.055],[.035,.06],[.05,.055],[.065,.05],[.08,.045],
[-.065,.04],[-.05,.04],[-.04,.035],[-.025,.04],[-.01,.04],[.005,.04],[.015,.035],[.03,.04],[.045,.035],[.06,.03],[.075,.03],[.09,.03],
[-.075,.02],[-.06,.02],[-.045,.015],[-.03,.02],[-.015,.02],[0,.015],[.015,.02],[.03,.015],[.045,.02],[.06,.01],[.075,.015],[.09,.01],
[-.08,0],[-.065,0],[-.05,-.005],[-.035,0],[-.02,-.005],[-.005,0],[.01,0],[.025,-.005],[.04,0],[.055,-.005],[.07,0],[.085,-.005],
[-.075,-.02],[-.06,-.02],[-.045,-.025],[-.03,-.02],[-.015,-.02],[0,-.025],[.015,-.02],[.03,-.025],[.045,-.02],[.06,-.025],[.075,-.02],[.085,-.025],
[-.065,-.04],[-.05,-.04],[-.035,-.045],[-.02,-.04],[-.005,-.04],[.01,-.045],[.025,-.04],[.04,-.045],[.055,-.04],[.07,-.04],
[-.05,-.06],[-.035,-.06],[-.02,-.065],[-.005,-.06],[.01,-.065],[.025,-.06],[.04,-.06],[-.045,-.075],[-.025,-.075],[-.005,-.08],[.015,-.075]];
let d_centro = [[-.04,.07],[-.025,.07],[-.01,.07],[.005,.07],[.02,.07],[.035,.07],[.05,.07],[-.06,.05],[-.045,.05],[-.03,.05],[-.015,.05],[0,.05],[.015,.05],[.03,.05],[.04,.05],[.06,.05],[.075,.05],[.09,.05],[-.07,.03],[-.055,.03],[-.045,.03],[-.03,.03],[-.015,.03],[0,.03],[.01,.03],[.025,.03],[.04,.03],[.05,.03],[.07,.03],[.085,.03],[-.085,.01],[-.07,.01],[-.055,.01],[-.04,.01],[-.025,.01],[-.01,.01],[.005,.01],[.02,.01],[.04,.01],[.05,.01],[.065,.01],[.08,.01],[.095,.01],[-.09,-.01],[-.07,-.01],[-.055,-.01],[-.04,-.01],[-.025,-.01],[-.01,-.01],[.005,-.01],[.02,-.01],[.035,-.01],[.05,-.01],[.065,-.01],[.08,-.01],[.095,-.01],[-.08,-.03],[-.065,-.03],[-.05,-.03],[-.04,-.03],[-.025,-.03],[-.01,-.03],[.005,-.03],[.02,-.03],[.04,-.03],[.05,-.03],[.07,-.03],[.08,-.03],[-.06,-.05],[-.045,-.05],[-.03,-.05],[-.015,-.05],[0,-.05],[.015,-.05],[.03,-.05],[.05,-.05],[.065,-.05],[-.04,-.07],[-.03,-.07],[-.015,-.07],[0,-.07],[.02,-.07],[.03,-.07]];

let d_evap = [[-.66,.55],[-.635,.55],[-.63,.54],[-.615,.57],[-.605,.56],[-.58,.58],[-.59,.48],[-.565,.655],[-.545,.42],[-.525,.36],[-.51,.42],[-.495,.51],[-.495,.48],[-.49,.45],[-.49,.4],[-.475,.36],[-.48,.32],[-.475,.46],[-.465,.42],[-.465,.36],[-.46,.46],[-.455,.475],[-.465,.28],[-.46,.39],[-.45,.39],[-.445,.37],[-.44,.36],[-.435,.32],[-.425,.34],[-.41,.34],[-.405,.39],[-.4,.49],[-.395,.4],[-.405,.31],[-.395,.3],[-.405,.26],[-.37,.36],[-.375,.3],[-.37,.29],[-.36,.27],[-.35,.35],[-.335,.34],[-.33,.39],[-.325,.27],[-.335,.215],[-.31,.31],[-.305,.28],[-.3,.27],[-.29,.28],[-.275,.3],[-.275,.28],[-.28,.26],[-.285,.24],[-.29,.215],[-.275,.23],[-.265,.23],[-.255,.22],[-.25,.28],[-.235,.265],[-.225,.26],[-.22,.26],[-.23,.22],[-.23,.195],[-.225,.195],[-.2,.2],[-.265,.17],[-.27,.125],[-.26,.14],[-.31,.125],[-.245,.16],[-.24,.15],[-.23,.155],[-.215,.13],[-.205,.13],[-.2,.12],[-.19,.175],[-.185,.15],[-.175,.195],[-.165,.18],[-.16,.185],[-.145,.195],[-.17,.14],[-.16,.14],[-.155,.12],[-.15,.11],[-.145,.15],[-.135,.16],[-.125,.155],[-.125,.14],[-.185,.085],[-.175,.11],[-.165,.1],[-.16,.08],[-.15,.06],[-.145,.04],[-.135,.09],[-.13,.05],[-.12,.09],[-.115,.06],[-.1,.08],[-.09,.13],[-.09,.05],[-.08,.07],[-.07,.1],[-.06,.1],[-.195,.015],[-.18,.02],[-.05,.29],[.012,.265],[-.04,.225],[-.005,.235],[-.095,0]];

let d_cond = [[.14,.085],[.17,.07],[.31,.06],[.26,.01],[.26,-.015],[.29,-.005],[.255,-.055],[.15,.03],[.165,.03],[.17,.025],[.11,.035],[.175,-.015],[.19,-.035],[.13,-.04],[.135,-.035],[.15,-.035],[.155,-.05],[.17,-.05],[.18,-.09],[.165,-.07],[.155,-.08],[.16,-.1],[.17,-.12],[.15,-.12],[.145,-.13],[.13,-.12],[.115,-.07],[.1,-.09],[.105,-.12],[.11,-.05],[.09,-.06],[.07,-.08],[.055,-.06],[.05,-.09],[.06,-.11],[.12,-.14],[.125,-.16],[.11,-.18],[.095,-.2],[.08,-.2],[.035,-.17],[.02,-.19],[.155,-.17],[.16,-.19],[.15,-.19],[.185,-.17],[.17,-.23],[.21,-.09],[.21,-.12],[.205,-.135],[.22,-.14],[.225,-.12],[.235,-.135],[.225,-.16],[.22,-.195],[.21,-.235],[.215,-.245],[.225,-.23],[.24,-.265],[.24,-.3],[.27,-.215],[.275,-.23],[.285,-.2],[.29,-.19],[.295,-.26],[.3,-.235],[.3,-.265],[.345,-.23],[.275,-.35],[.32,-.375],[.315,-.385],[.32,-.405],[.325,-.37],[.38,-.335],[.405,-.385],[.42,-.38],[.415,-.325],[.42,-.345],[.428,-.345]];

let d_gases = [[-.18,-.195],[-.15,-.22],[-.11,-.2],[-.085,-.18],[-.075,-.19],[-.04,-.175],[0,-.165],[.078,-.22],[-.035,-.225],[-.03,-.24],[-.14,-.26],[-.12,-.26],[-.1,-.24],[-.09,-.26],[-.08,-.25],[-.07,-.26],[-.06,-.25],[-.05,-.25],[-.04,-.25],[-.03,-.26],[-.02,-.25],[-.005,-.26],[-.01,-.27],[.017,-.27],[-.11,-.275],[-.1,-.27],[-.08,-.28],[-.06,-.28],[-.045,-.29],[-.03,-.28],[-.04,-.31],[-.03,-.305],[-.16,-.295],[-.15,-.31],[-.1,-.31],[-.09,-.3],[-.08,-.32],[-.07,-.31],[-.06,-.33],[-.12,-.33],[-.13,-.35],[-.11,-.34],[-.09,-.34],[-.08,-.345],[-.07,-.34],[-.06,-.34],[-.025,-.33],[0,-.33],[-.14,-.36],[-.15,-.34],[-.16,-.36],[-.11,-.37],[-.1,-.36],[-.09,-.37],[-.08,-.36],[-.07,-.38],[-.06,-.37],[-.05,-.37],[.027,-.365],[-.175,-.375],[-.16,-.39],[-.15,-.39],[-.14,-.38],[-.13,-.38],[-.12,-.39],[-.11,-.39],[-.1,-.39],[-.09,-.4],[-.18,-.4],[-.135,-.41],[-.125,-.405],[-.115,-.405],[-.105,-.41],[-.095,-.42],[-.07,-.41],[-.08,-.39],[-.065,-.42],[-.045,-.42],[-.16,-.42],[-.185,-.41],[-.12,-.42],[-.11,-.43],[-.13,-.43],[-.185,-.44],[-.145,-.45],[-.125,-.44],[-.115,-.46],[-.09,-.44],[-.08,-.45],[-.045,-.455],[-.14,-.505],[-.185,-.56],[-.16,-.57],[-.13,-.545],[-.125,-.58],[-.18,-.59],[-.16,-.595],[-.15,-.595],[-.14,-.59],[-.13,-.61],[-.115,-.6],[-.12,-.62],[-.11,-.62],[-.1,-.615],[-.09,-.615],[-.075,-.61],[-.15,-.63],[-.14,-.635],[-.145,-.67],[-.15,-.685],[-.295,-.575],[-.3,-.6],[-.27,-.695],[-.26,-.705],[-.25,-.715],[-.235,-.71],[-.23,-.68],[-.23,-.715],[-.195,-.7],[-.195,-.72],[-.19,-.735],[-.175,-.705],[-.22,-.78]];

let d_leak = [[-.005,.2],[0,.19],[.01,.19],[.03,.18],[.05,.205],[.065,.2],[.06,.19],[.04,.165],[.05,.15],[.06,.16],[.095,.19],[.005,.15],[-.035,.11],[-.05,.1],[0,.13],[.02,.12],[.05,.12],[.065,.13],[.075,.12],[.09,.15],[.08,.1],[.1,.1],[.02,.09],[.05,.07],[.06,.065],[.09,.09],[-.105,-.05],[-.1,-.055],[-.085,-.08],[-.05,-.165],[.09,-.01],[.08,-.04],[.07,-.06]];

let ticks_a_x = [-4,-2,0,2,4],  ticks_a_y = [-4,-2,0,2,4,6,8];
let ticks_b_x = [-1.25,-1,-.75,-.5,-.25,0,.25,.5],  ticks_b_y = [-1,-.5,0,.5,1,1.5,2,2.5];
let ticks_c_x = [-4,-3,-2,-1,0,1,2,3,4],  ticks_c_y = [-2,0,2,4];
let ticks_d_x = [-.6,-.4,-.2,0,.2,.4],  ticks_d_y = [-.8,-.6,-.4,-.2,0,.2,.4,.6];

/*--- Variables técnicas ---*/
let width = 1206, height = 877, radio = 3.1;
// orden de dibujo: fuga abajo, normal arriba
let orden = [4, 2, 3, 1, 0];

let svg = d3.select("#figura").append("svg").attr("width", width).attr("height", height);

function panel(p) {
    let x = d3.scaleLinear().domain(p.dx).range([p.l, p.r]);
    let y = d3.scaleLinear().domain(p.dy).range([p.b, p.t]);
    let g = svg.append("g");

    orden.forEach(function (k) {
        g.append("g").selectAll("circle")
            .data(p.series[k])
            .enter().append("circle")
            .attr("cx", d => x(d[0]))
            .attr("cy", d => y(d[1]))
            .attr("r", radio)
            .attr("fill", colores[k]);
    });

    g.append("g").attr("transform", "translate(0," + p.b + ")")
        .call(d3.axisBottom(x).tickValues(p.tx).tickFormat(d3.format(p.fx)).tickSize(4).tickPadding(7).tickSizeOuter(0));
    g.append("g").attr("transform", "translate(" + p.l + ",0)")
        .call(d3.axisLeft(y).tickValues(p.ty).tickFormat(d3.format(p.fy)).tickSize(4).tickPadding(6).tickSizeOuter(0));
    g.append("rect").attr("x", p.l).attr("y", p.t).attr("width", p.r - p.l).attr("height", p.b - p.t)
        .attr("fill", "none").attr("stroke", "#333").attr("stroke-width", 1);

    g.append("text").attr("x", p.r - 6).attr("y", p.b - 6).attr("text-anchor", "end")
        .attr("font-size", 17).text(p.etx);
    g.append("text").attr("transform", "translate(" + (p.l + 20) + "," + (p.t + 13) + ") rotate(-90)")
        .attr("text-anchor", "end").attr("font-size", 17).text(p.ety);
}

panel({l: 41, r: 598, t: 12, b: 405, dx: [-4.95, 5.91], dy: [-4.95, 8.2], tx: ticks_a_x, ty: ticks_a_y, fx: "d", fy: "d",
    etx: "PC 1", ety: "PC 2", series: [a_normal, a_evap, a_cond, a_gases, a_leak]});
panel({l: 676, r: 1205, t: 12, b: 405, dx: [-1.453, .619], dy: [-1.02, 2.71], tx: ticks_b_x, ty: ticks_b_y, fx: ".2f", fy: ".1f",
    etx: "PC 10", ety: "PC 11", series: [b_normal.concat(b_centro), b_evap, b_cond, b_gases, b_leak]});
panel({l: 41, r: 598, t: 459.5, b: 852.5, dx: [-4, 4.82], dy: [-3.33, 5.71], tx: ticks_c_x, ty: ticks_c_y, fx: "d", fy: "d",
    etx: "PC 1", ety: "PC 2", series: [c_normal, c_evap, c_cond, c_gases, c_leak]});
panel({l: 676, r: 1205, t: 459.5, b: 852.5, dx: [-.719, .483], dy: [-.857, .734], tx: ticks_d_x, ty: ticks_d_y, fx: ".1f", fy: ".1f",
    etx: "PC 10", ety: "PC 11", series: [d_normal.concat(d_centro), d_evap, d_cond, d_gases, d_leak]});

/*--- leyenda ---*/
let leyenda = svg.append("g");
leyenda.append("rect").attr("x", 701.5).attr("y", 15).attr("width", 322).attr("height", 149).attr("rx", 3)
    .attr("fill", "#fff").attr("fill-opacity", 0.8).attr("stroke", "#ccc").attr("stroke-width", 1);
let fila = d3.scalePoint().domain(clases).range([31, 147]);
clases.forEach(function (c, i) {
    leyenda.append("circle").attr("cx", 729).attr("cy", fila(c) + 1).attr("r", 5.8).attr("fill", colores[i]);
    leyenda.append("text").attr("x", 764.5).attr("y", fila(c)).attr("dy", "0.35em").attr("font-size", 19.6).text(c);
});
</script>
</body>
</html>
